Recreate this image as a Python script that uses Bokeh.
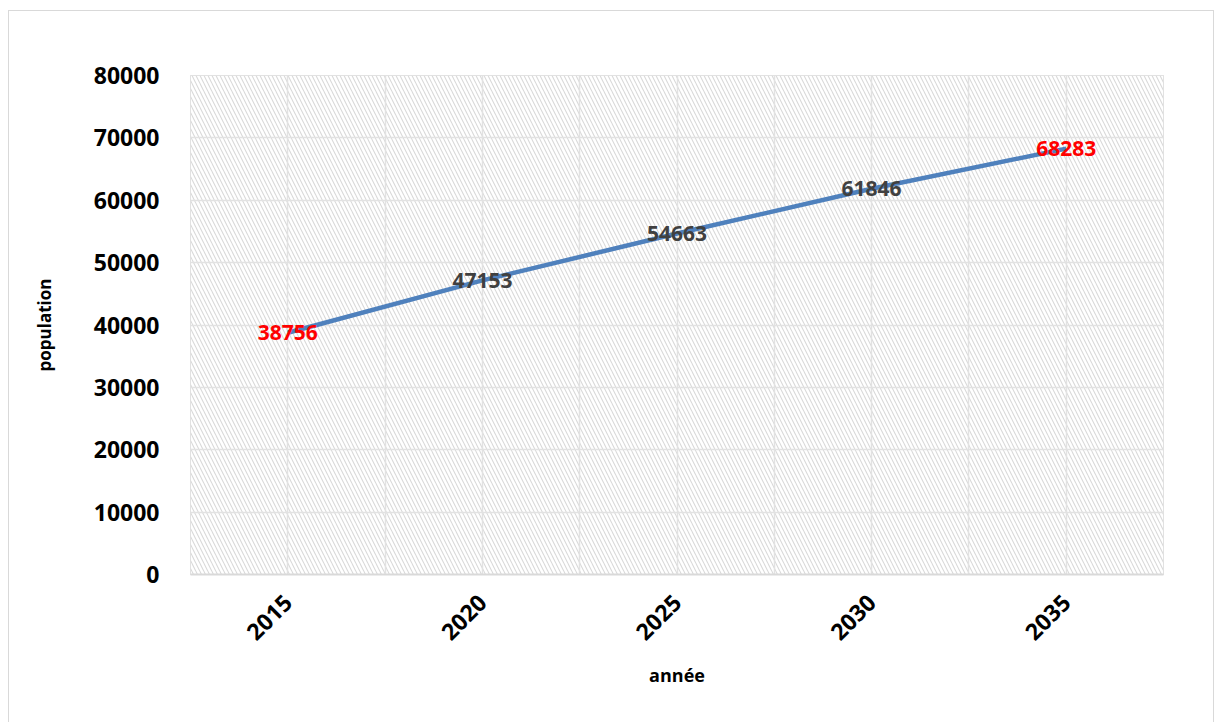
import math
from bokeh.plotting import figure
from bokeh.models import (ColumnDataSource, FixedTicker, BoxAnnotation, Legend,
                          LegendItem, NumeralTickFormatter)
from bokeh.core.properties import value
from bokeh.embed import file_html
from bokeh.resources import INLINE

# population projection by year
years = [2015, 2020, 2025, 2030, 2035]
population = [38756, 47153, 54663, 61846, 68283]
y_ticks = [0, 10000, 20000, 30000, 40000, 50000, 60000, 70000, 80000]
series_name = "Population"

FONT = "Open Sans"
LINE_COLOR = "#4f81bd"
label_colors = ["#ff0000" if i in (0, len(years) - 1) else "#404040"
                for i in range(len(years))]
src = ColumnDataSource(dict(x=years, y=population,
                            txt=[str(v) for v in population], col=label_colors))

p = figure(frame_width=973, frame_height=499,
           x_range=(2012.5, 2037.5), y_range=(0, 80000),
           output_backend="svg", toolbar_location=None,
           min_border_left=181, min_border_right=50, min_border_top=64,
           min_border_bottom=140)
p.margin = (10, 0, 0, 8)
p.styles = {"border": "1px solid #d9d9d9", "box-sizing": "content-box"}
p.outline_line_color = "#d9d9d9"
p.background_fill_color = "white"

# hatched plot area
p.add_layout(BoxAnnotation(left=2012.5, right=2037.5, bottom=0, top=80000,
                           fill_color="white", fill_alpha=1, line_color=None,
                           hatch_pattern="\\", hatch_color="#d9d9d9",
                           hatch_scale=8, hatch_weight=1.1, level="image"))

# grids
p.xgrid.ticker = FixedTicker(ticks=[2012.5 + 2.5 * i for i in range(11)])
p.xgrid.grid_line_color = "#e2e2e2"
p.xgrid.grid_line_width = 1.5
p.ygrid.ticker = FixedTicker(ticks=y_ticks)
p.ygrid.grid_line_color = "#e2e2e2"
p.ygrid.grid_line_width = 1.5

# axes
p.xaxis.ticker = FixedTicker(ticks=years)
p.yaxis.ticker = FixedTicker(ticks=y_ticks)
p.yaxis.formatter = NumeralTickFormatter(format="0")
for ax in (p.xaxis[0], p.yaxis[0]):
    ax.major_tick_line_color = None
    ax.minor_tick_line_color = None
    ax.major_label_text_font = FONT
    ax.major_label_text_font_style = "bold"
    ax.major_label_text_font_size = "23px"
    ax.major_label_text_color = "black"
    ax.axis_label_text_font = FONT
    ax.axis_label_text_font_style = "bold"
    ax.axis_label_text_color = "black"
p.xaxis.axis_line_color = "#d9d9d9"
p.xaxis.axis_line_width = 2
p.yaxis.axis_line_color = None
p.yaxis.major_label_standoff = 25
p.xaxis.major_label_standoff = 18
p.xaxis.major_label_orientation = math.pi / 4
p.yaxis.axis_label = "population"
p.yaxis.axis_label_text_font_size = "17px"
p.yaxis.axis_label_standoff = 35
p.xaxis.axis_label = "année"
p.xaxis.axis_label_text_font_size = "18px"
p.xaxis.axis_label_standoff = 12

line = p.line("x", "y", source=src, line_color=LINE_COLOR, line_width=4.5)
p.text("x", "y", text="txt", source=src, text_color="col",
       text_align="center", text_baseline="middle", text_font=value(FONT),
       text_font_style="bold", text_font_size="21px")

# legend in the panel under the x axis, at the right
legend = Legend(items=[LegendItem(label=series_name, renderers=[line])],
                location="top_right", orientation="horizontal",
                background_fill_alpha=0, border_line_color=None,
                label_text_font=FONT, label_text_font_style="bold",
                label_text_font_size="18px", label_text_color="#595959",
                glyph_width=52, glyph_height=20, padding=0, margin=0,
                label_standoff=4, label_height=20)
p.add_layout(legend, "below")

open("out.html", "w").write(file_html(p, INLINE))
